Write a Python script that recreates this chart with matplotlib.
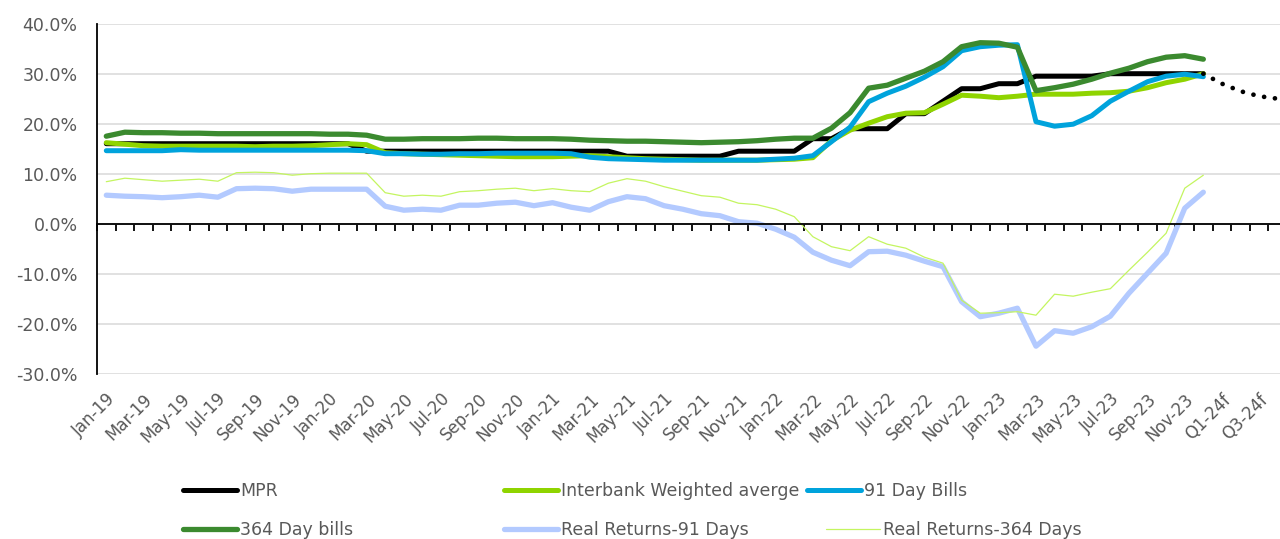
import numpy as np
import pandas as pd
import matplotlib
matplotlib.use('Agg')
import matplotlib.pyplot as plt

# categories: monthly Jan-19 .. Dec-23, then quarterly forecasts
months = list(pd.date_range('2019-01-01', periods=60, freq='MS').strftime('%b-%y'))
quarters = ['Q1-24f', 'Q2-24f', 'Q3-24f', 'Q4-24f']
cats = months + quarters

mpr = [16.0] * 14 + [14.5] * 14 + [13.5] * 6 + [14.5] * 4 + [17.0, 17.0, 19.0, 19.0, 19.0,
       22.0, 22.0, 24.5, 27.0, 27.0, 28.0, 28.0, 29.5, 29.5, 29.5, 29.5,
       30.0, 30.0, 30.0, 30.0, 30.0, 30.0]
mpr_forecast = [28.0, 26.5, 25.5, 25.0]

interbank = [16.2, 15.9, 15.6, 15.5, 15.5, 15.5, 15.5, 15.5, 15.4, 15.5, 15.5, 15.6,
             15.8, 16.0, 15.8, 14.2, 14.0, 13.9, 13.8, 13.7, 13.6, 13.5, 13.4, 13.4,
             13.4, 13.5, 13.6, 13.4, 13.2, 13.0, 12.9, 12.8, 12.7, 12.7, 12.7, 12.7,
             12.8, 12.9, 13.2, 16.6, 18.7, 20.1, 21.4, 22.1, 22.2, 23.9, 25.7, 25.5,
             25.2, 25.5, 25.9, 25.9, 25.9, 26.1, 26.2, 26.5, 27.2, 28.2, 28.9, 30.0]

bills_91 = [14.6, 14.6, 14.6, 14.6, 14.8, 14.7, 14.7, 14.7, 14.7, 14.7, 14.7, 14.7,
            14.7, 14.7, 14.6, 14.0, 14.0, 13.9, 13.9, 14.0, 14.0, 14.1, 14.1, 14.1,
            14.1, 14.0, 13.3, 13.0, 12.9, 12.8, 12.7, 12.7, 12.7, 12.7, 12.7, 12.7,
            12.9, 13.1, 13.6, 16.4, 19.3, 24.4, 26.1, 27.5, 29.3, 31.4, 34.6, 35.4,
            35.7, 35.8, 20.4, 19.5, 19.9, 21.6, 24.5, 26.5, 28.4, 29.5, 29.9, 29.4]

bills_364 = [17.5, 18.3, 18.2, 18.2, 18.1, 18.1, 18.0, 18.0, 18.0, 18.0, 18.0, 18.0,
             17.9, 17.9, 17.7, 16.9, 16.9, 17.0, 17.0, 17.0, 17.1, 17.1, 17.0, 17.0,
             17.0, 16.9, 16.7, 16.6, 16.5, 16.5, 16.4, 16.3, 16.2, 16.3, 16.4, 16.6,
             16.9, 17.1, 17.1, 19.1, 22.2, 27.1, 27.7, 29.1, 30.5, 32.4, 35.4, 36.2,
             36.1, 35.3, 26.6, 27.2, 27.9, 28.9, 30.1, 31.1, 32.4, 33.3, 33.6, 32.9]

real_91 = [5.7, 5.5, 5.4, 5.2, 5.4, 5.7, 5.3, 7.0, 7.1, 7.0, 6.5, 6.9,
           6.9, 6.9, 6.9, 3.5, 2.7, 2.9, 2.7, 3.7, 3.7, 4.1, 4.3, 3.6,
           4.2, 3.3, 2.7, 4.4, 5.4, 5.0, 3.6, 2.9, 2.0, 1.6, 0.4, 0.1,
           -1.1, -2.7, -5.7, -7.3, -8.4, -5.6, -5.5, -6.3, -7.5, -8.6, -15.6, -18.6,
           -17.9, -16.9, -24.5, -21.4, -21.9, -20.6, -18.5, -13.9, -9.9, -5.9, 3.1, 6.3]

real_364 = [8.4, 9.1, 8.8, 8.5, 8.7, 8.9, 8.5, 10.2, 10.3, 10.2, 9.7, 10.0,
            10.1, 10.1, 10.1, 6.2, 5.5, 5.7, 5.5, 6.4, 6.6, 6.9, 7.1, 6.6,
            7.0, 6.6, 6.4, 8.1, 9.0, 8.5, 7.4, 6.5, 5.6, 5.3, 4.1, 3.8,
            2.9, 1.4, -2.6, -4.6, -5.4, -2.6, -4.1, -4.9, -6.7, -7.9, -15.3, -17.9,
            -17.8, -17.6, -18.3, -14.1, -14.5, -13.7, -13.0, -9.3, -5.7, -1.9, 7.1, 9.7]

x = np.arange(len(cats))
n = len(months)
grey = '#595959'

fig = plt.figure(figsize=(12.8, 5.39), dpi=100)
ax = fig.add_axes([97 / 1280, 165.3 / 539, 1190 / 1280, 350 / 539])

series = [
    ('MPR', mpr, 'black', 3.6),
    ('Interbank Weighted averge', interbank, '#8FD400', 3.6),
    ('91 Day Bills', bills_91, '#00A3DC', 3.6),
    ('364 Day bills', bills_364, '#3B8A2F', 3.8),
    ('Real Returns-91 Days', real_91, '#B3CAFF', 3.8),
    ('Real Returns-364 Days', real_364, '#C4F560', 0.9),
]
handles = {}
for name, vals, col, lw in series:
    ln, = ax.plot(x[:n], vals, color=col, lw=lw, solid_joinstyle='round',
                  solid_capstyle='round', label=name)
    handles[name] = ln

# forecast part of the policy rate, dotted
ax.plot(x[n - 1:], [mpr[-1]] + mpr_forecast, color='black', lw=3.4,
        linestyle=(0, (0.01, 2.3)), dash_capstyle='round')

ax.set_xlim(-0.5, len(cats) - 0.5)
ax.set_ylim(-30, 40)
yt = np.arange(-30, 41, 10)
ax.set_yticks(yt, labels=[f'{v:.1f}%' for v in yt])
ax.tick_params(axis='y', length=0, pad=14, labelsize=12.5, labelcolor=grey)
ax.yaxis.grid(True, color='#D9D9D9', lw=1.1)
ax.set_axisbelow(True)

for s in ['top', 'right']:
    ax.spines[s].set_visible(False)
ax.spines['left'].set_color('black')
ax.spines['left'].set_linewidth(1.3)
ax.spines['bottom'].set_position(('data', 0))
ax.spines['bottom'].set_linewidth(1.3)
ax.set_xticks(np.arange(-0.5, len(cats), 1))
ax.tick_params(axis='x', length=5, width=1.3, direction='out', labelbottom=False)

sec = ax.secondary_xaxis('bottom')
sec.spines['bottom'].set_visible(False)
sec.set_xticks(x[::2], labels=cats[::2])
sec.tick_params(length=0, pad=12, labelsize=12, labelcolor=grey)
for t in sec.get_xticklabels():
    t.set_rotation(45)
    t.set_ha('right')
    t.set_va('top')
    t.set_rotation_mode('anchor')

# legend entries laid out like the original (two rows, uneven columns)
leg_pos = {
    'MPR': (183, 491), 'Interbank Weighted averge': (504, 491), '91 Day Bills': (807, 491),
    '364 Day bills': (183, 530), 'Real Returns-91 Days': (504, 530), 'Real Returns-364 Days': (826, 530),
}
for name, (px, py) in leg_pos.items():
    fig.legend([handles[name]], [name], loc='center left',
               bbox_to_anchor=(px / 1280, 1 - py / 539),
               frameon=False, handlelength=3.1, handletextpad=0.2, borderpad=0,
               borderaxespad=0, fontsize=12.5, labelcolor=grey)

fig.savefig('out.png', dpi=100)
